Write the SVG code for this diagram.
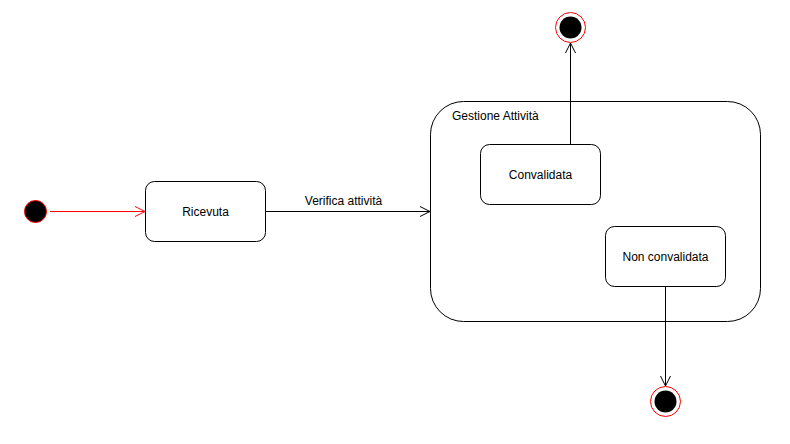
<svg xmlns="http://www.w3.org/2000/svg" width="790" height="444" viewBox="0 0 790 444">
<defs>
<style>
.state{fill:#fff;stroke:#000;stroke-width:1}
.lbl{font-family:"Liberation Sans",Arial,sans-serif;font-size:12px;fill:#000}
.conn{fill:none;stroke:#000;stroke-width:1}
.red{stroke:#ff0000}
</style>
<marker id="open" viewBox="0 0 12 12" markerWidth="12" markerHeight="12" refX="11" refY="6" orient="auto" markerUnits="userSpaceOnUse">
<path d="M1,1 L11,6 L1,11" fill="none" stroke="#000" stroke-width="1"/>
</marker>
<marker id="openRed" viewBox="0 0 12 12" markerWidth="12" markerHeight="12" refX="11" refY="6" orient="auto" markerUnits="userSpaceOnUse">
<path d="M1,1 L11,6 L1,11" fill="none" stroke="#ff0000" stroke-width="1"/>
</marker>
</defs>
<rect width="790" height="444" fill="#fff"/>
<g id="start">
<circle cx="35.5" cy="211.5" r="11" fill="#000" stroke="#ff0000" stroke-width="1"/>
</g>
<g id="ricevuta">
<rect class="state" x="145.5" y="181.5" width="120" height="60" rx="9"/>
<text class="lbl" x="205.5" y="215.5" text-anchor="middle">Ricevuta</text>
</g>
<g id="gestione">
<rect class="state" x="430.5" y="101.5" width="330" height="220" rx="33"/>
<text class="lbl" x="452" y="120">Gestione Attività</text>
</g>
<g id="convalidata">
<rect class="state" x="480.5" y="144.5" width="120" height="60" rx="9"/>
<text class="lbl" x="540.5" y="178.5" text-anchor="middle">Convalidata</text>
</g>
<g id="nonconvalidata">
<rect class="state" x="605.5" y="226.5" width="120" height="60" rx="9"/>
<text class="lbl" x="665.5" y="260.5" text-anchor="middle">Non convalidata</text>
</g>
<g id="end1">
<circle cx="570.5" cy="27.5" r="15" fill="#fff" stroke="#ff0000" stroke-width="1"/>
<circle cx="570.5" cy="27.5" r="11" fill="#000"/>
</g>
<g id="end2">
<circle cx="665.5" cy="401.5" r="15" fill="#fff" stroke="#ff0000" stroke-width="1"/>
<circle cx="665.5" cy="401.5" r="11" fill="#000"/>
</g>
<g id="connectors">
<path class="conn red" d="M50,211.5 L145,211.5" marker-end="url(#openRed)"/>
<path class="conn" d="M265.5,211.5 L430,211.5" marker-end="url(#open)"/>
<text class="lbl" x="343.5" y="205" text-anchor="middle">Verifica attività</text>
<path class="conn" d="M570.5,144.5 L570.5,43" marker-end="url(#open)"/>
<path class="conn" d="M665.5,286.5 L665.5,386" marker-end="url(#open)"/>
</g>
</svg>
